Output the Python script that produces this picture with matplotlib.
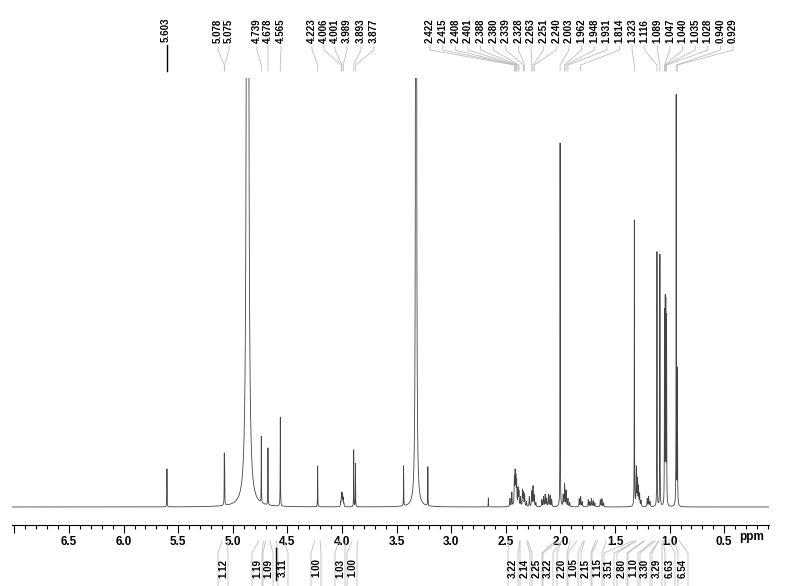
import numpy as np
import matplotlib.pyplot as plt
from matplotlib.ticker import MultipleLocator

plt.rcParams['font.family'] = ['Liberation Sans', 'DejaVu Sans']

# peaks of the 1H spectrum: position (ppm), height, half width (ppm)
peak_ppm = [5.603, 5.078, 5.075, 4.865, 4.739, 4.678, 4.565, 4.223,
            4.012, 4.006, 4.001, 3.995, 3.989, 3.983, 3.893, 3.877,
            3.436, 3.322, 3.214, 2.660,
            2.462, 2.445, 2.422, 2.415, 2.408, 2.401, 2.388, 2.380, 2.365,
            2.347, 2.339, 2.328, 2.310, 2.285, 2.263, 2.251, 2.240, 2.225,
            2.170, 2.155, 2.140, 2.128, 2.110, 2.095, 2.080,
            2.003, 1.975, 1.962, 1.948, 1.931, 1.915,
            1.828, 1.814, 1.800, 1.745, 1.730, 1.715, 1.700, 1.685,
            1.635, 1.620, 1.605,
            1.323, 1.305, 1.295, 1.285, 1.275, 1.262, 1.205, 1.192, 1.180,
            1.116, 1.089, 1.047, 1.040, 1.035, 1.028, 0.940, 0.929]
peak_height = [38, 47, 40, 8000, 66, 57, 89, 41,
               4, 10, 12, 11, 8, 3, 57, 43,
               40, 5000, 39, 9,
               8, 14, 26, 31, 26, 23, 17, 14, 9,
               16, 13, 12, 5, 10, 15, 20, 11, 4,
               7, 10, 12, 8, 12, 11, 7,
               364, 11, 22, 16, 8, 4,
               8, 10, 5, 7, 5, 8, 6, 4,
               7, 8, 4,
               286, 38, 26, 19, 12, 6, 8, 10, 5,
               255, 252, 190, 195, 192, 185, 410, 135]
peak_hw = [0.0012, 0.0012, 0.0012, 0.003, 0.0012, 0.0012, 0.0014, 0.0012,
           0.002, 0.002, 0.002, 0.002, 0.002, 0.002, 0.0012, 0.0012,
           0.0012, 0.0018, 0.0012, 0.0012,
           0.0025, 0.0025, 0.0025, 0.0025, 0.0025, 0.0025, 0.0025, 0.0025, 0.0025,
           0.0025, 0.0025, 0.0025, 0.0025, 0.0025, 0.0025, 0.0025, 0.0025, 0.0025,
           0.0025, 0.0025, 0.0025, 0.0025, 0.0025, 0.0025, 0.0025,
           0.0012, 0.0025, 0.0025, 0.0025, 0.0025, 0.0025,
           0.0025, 0.0025, 0.0025, 0.0025, 0.0025, 0.0025, 0.0025, 0.0025,
           0.0025, 0.0025, 0.0025,
           0.0012, 0.0025, 0.0025, 0.0025, 0.0025, 0.0025, 0.0025, 0.0025, 0.0025,
           0.0012, 0.0012, 0.0012, 0.0012, 0.0012, 0.0012, 0.0012, 0.0015]

# peak picking labels
pick_left = ['5.078', '5.075', '4.739', '4.678', '4.565', '4.223',
             '4.006', '4.001', '3.989', '3.893', '3.877']
pick_right = ['2.422', '2.415', '2.408', '2.401', '2.388', '2.380', '2.339',
              '2.328', '2.263', '2.251', '2.240', '2.003', '1.962', '1.948',
              '1.931', '1.814', '1.323', '1.116', '1.089', '1.047', '1.040',
              '1.035', '1.028', '0.940', '0.929']

# integrals: value, region start, region end (ppm)
integ_vals = ['1.12', '1.19', '1.09', '3.11', '1.00', '1.03', '1.00',
              '3.22', '2.14', '2.25', '3.22', '2.20', '1.05', '2.15', '1.15',
              '3.51', '2.80', '1.10', '3.30', '3.29', '6.63', '6.54']
integ_from = [5.10, 4.76, 4.70, 4.60, 4.25, 4.03, 3.91,
              2.47, 2.37, 2.30, 2.02, 1.99, 1.85, 1.78, 1.66,
              1.34, 1.31, 1.23, 1.13, 1.10, 1.06, 0.96]
integ_to = [5.05, 4.72, 4.66, 4.53, 4.20, 3.97, 3.86,
            2.37, 2.31, 2.05, 1.99, 1.91, 1.79, 1.68, 1.58,
            1.31, 1.24, 1.15, 1.10, 1.07, 1.01, 0.91]

# label slot positions (pixels)
slots_left = [218, 229, 257, 268, 281, 312, 324, 335, 347, 361, 374]
slots_right = [430 + i * 12.63 for i in range(len(pick_right))]
slots_integ = [223, 257, 268, 283, 316, 340, 352,
               513, 525, 537, 548, 562, 573, 586, 597,
               609, 622, 633, 645, 657, 670, 683]

W, H = 789, 586
fig = plt.figure(figsize=(W / 100, H / 100), dpi=100)
ax = fig.add_axes([12 / W, (H - 525) / H, 757 / W, 447 / H])

ppm = np.linspace(7.022, 0.09, 60000)
inten = np.zeros_like(ppm)
for p, h, w in zip(peak_ppm, peak_height, peak_hw):
    inten += h * w ** 2 / ((ppm - p) ** 2 + w ** 2)
ax.plot(ppm, inten, color='#444444', lw=0.6)

ax.set_xlim(7.022, 0.09)
ax.set_ylim(-18, 429)
for s in ['top', 'left', 'right']:
    ax.spines[s].set_visible(False)
ax.spines['bottom'].set_linewidth(0.8)
ax.set_yticks([])
majors = np.arange(7.0, 0.4, -0.5)
ax.set_xticks(majors)
ax.set_xticklabels(['' if abs(m - 7.0) < 1e-6 else f'{m:.1f}' for m in majors],
                   fontsize=8.5, fontweight='bold')
ax.xaxis.set_minor_locator(MultipleLocator(0.1))
ax.tick_params(axis='x', which='major', length=6, width=0.8, pad=2)
ax.tick_params(axis='x', which='minor', length=3, width=0.8)

ov = fig.add_axes([0, 0, 1, 1])
ov.set_xlim(0, W)
ov.set_ylim(H, 0)
ov.axis('off')
ov.patch.set_alpha(0)


def px(p):
    return ax.transData.transform((p, 0))[0]


gray = '#bdbdbd'
ov.text(752, 537, 'ppm', ha='center', va='center', fontsize=8.5, fontweight='bold')

# single marked peak
ov.plot([px(5.603)] * 2, [45, 71], color='black', lw=1.0)
ov.text(166, 42, '5.603', rotation=90, ha='center', va='bottom', fontsize=7, fontweight='bold')

for lab, sx in zip(pick_left + pick_right, slots_left + slots_right):
    xp = px(float(lab))
    ov.plot([sx, sx, xp, xp], [46, 50, 65, 71], color=gray, lw=0.6)
    ov.text(sx, 43, lab, rotation=90, ha='center', va='bottom', fontsize=7, fontweight='bold')

for val, p0, p1, sx in zip(integ_vals, integ_from, integ_to, slots_integ):
    x0, x1 = px(p0), px(p1)
    ov.plot([x0, sx - 5, sx - 5], [541, 553, 586], color=gray, lw=0.6)
    ov.plot([x1, sx + 5, sx + 5], [541, 553, 586], color=gray, lw=0.6)
    ov.text(sx, 568, val, rotation=90, ha='center', va='center', fontsize=7, fontweight='bold')
ov.plot([276, 276], [548, 580], color='black', lw=1.0)

fig.savefig('out.png', dpi=100)
